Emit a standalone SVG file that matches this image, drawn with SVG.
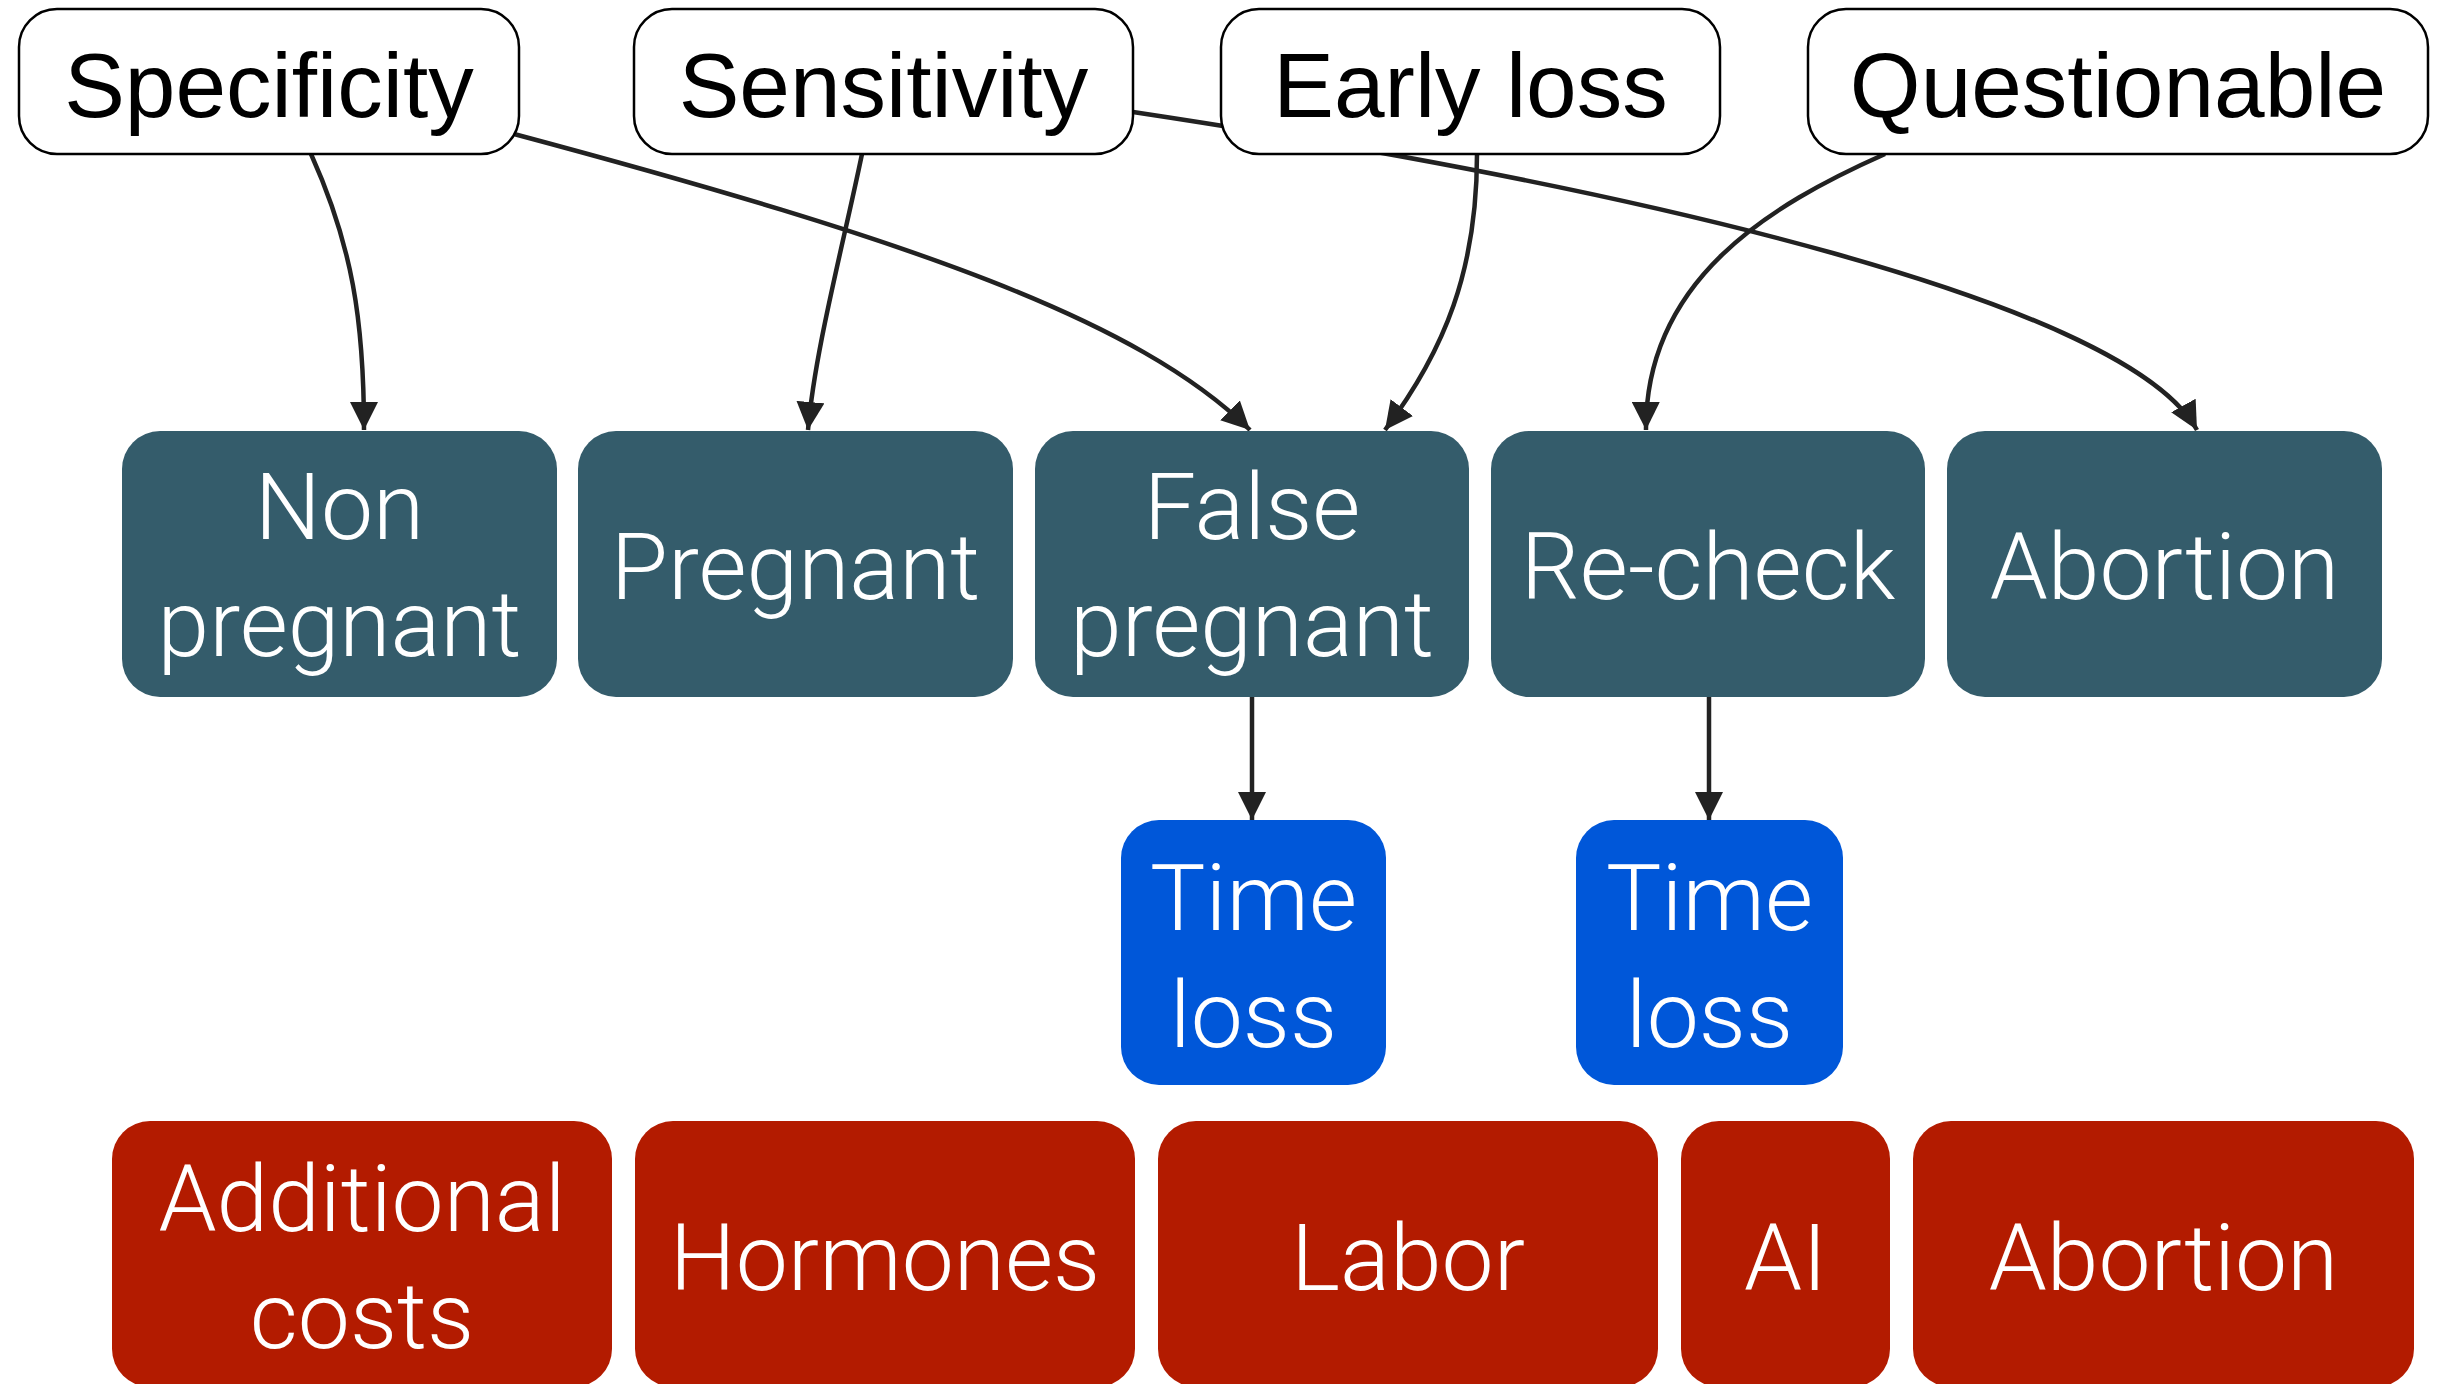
<svg xmlns="http://www.w3.org/2000/svg" width="2440" height="1384" viewBox="0 0 2440 1384">
<style>
.top rect{fill:#fff;stroke:#000;stroke-width:2.5}
.top text{font-family:"Liberation Sans",Arial,sans-serif;font-size:91px;fill:#000;text-anchor:middle}
.teal rect{fill:#345c6b}
.blue rect{fill:#0057d9}
.red rect{fill:#b31b00}
.w text{font-family:Roboto,"Liberation Sans",sans-serif;font-weight:300;font-size:93px;fill:#fff;text-anchor:middle}
.edge{fill:none;stroke:#222;stroke-width:4.5;marker-end:url(#ah)}
</style>
<defs>
<marker id="ah" markerUnits="userSpaceOnUse" markerWidth="28" markerHeight="28" refX="26" refY="13" orient="auto" viewBox="0 0 26 26">
<path d="M0,0 L26,13 L0,26 z" fill="#222"/>
</marker>
</defs>
<rect width="2440" height="1384" fill="#fff"/>
<g id="connectors">
<path class="edge" d="M311,154 C352,245 364,320 364,430"/>
<path class="edge" d="M862,154 C842,250 815,350 808,430"/>
<path class="edge" d="M514,134 C914,241 1138,320 1250,430"/>
<path class="edge" d="M1133,112 C1650,190 2127,304 2197,430"/>
<path class="edge" d="M1477,154 C1477,270 1445,350 1385,430"/>
<path class="edge" d="M1885,154 C1770,205 1645,280 1646,430"/>
<path class="edge" d="M1252,697 L1252,820"/>
<path class="edge" d="M1709,697 L1709,820"/>
</g>
<g id="n-specificity" class="top"><rect x="19" y="9" width="500" height="145" rx="38"/><text x="269" y="117">Specificity</text></g>
<g id="n-sensitivity" class="top"><rect x="634" y="9" width="499" height="145" rx="38"/><text x="883.5" y="117">Sensitivity</text></g>
<g id="n-earlyloss" class="top"><rect x="1221" y="9" width="499" height="145" rx="38"/><text x="1470.5" y="117">Early loss</text></g>
<g id="n-questionable" class="top"><rect x="1808" y="9" width="620" height="145" rx="38"/><text x="2118" y="117">Questionable</text></g>

<g id="n-nonpregnant" class="teal w"><rect x="122" y="431" width="435" height="266" rx="38"/><text x="339.5" y="539">Non</text><text x="339.5" y="656">pregnant</text></g>
<g id="n-pregnant" class="teal w"><rect x="578" y="431" width="435" height="266" rx="38"/><text x="795.5" y="599">Pregnant</text></g>
<g id="n-falsepregnant" class="teal w"><rect x="1035" y="431" width="434" height="266" rx="38"/><text x="1252" y="539">False</text><text x="1252" y="656">pregnant</text></g>
<g id="n-recheck" class="teal w"><rect x="1491" y="431" width="434" height="266" rx="38"/><text x="1708" y="599">Re-check</text></g>
<g id="n-abortion1" class="teal w"><rect x="1947" y="431" width="435" height="266" rx="38"/><text x="2164.5" y="599">Abortion</text></g>

<g id="n-timeloss1" class="blue w"><rect x="1121" y="820" width="265" height="265" rx="38"/><text x="1253.5" y="930">Time</text><text x="1253.5" y="1047">loss</text></g>
<g id="n-timeloss2" class="blue w"><rect x="1576" y="820" width="267" height="265" rx="38"/><text x="1709.5" y="930">Time</text><text x="1709.5" y="1047">loss</text></g>

<g id="n-additionalcosts" class="red w"><rect x="112" y="1121" width="500" height="266" rx="38"/><text x="362" y="1231">Additional</text><text x="362" y="1348">costs</text></g>
<g id="n-hormones" class="red w"><rect x="635" y="1121" width="500" height="266" rx="38"/><text x="885" y="1290">Hormones</text></g>
<g id="n-labor" class="red w"><rect x="1158" y="1121" width="500" height="266" rx="38"/><text x="1408" y="1290">Labor</text></g>
<g id="n-ai" class="red w"><rect x="1681" y="1121" width="209" height="266" rx="38"/><text x="1785.5" y="1290">AI</text></g>
<g id="n-abortion2" class="red w"><rect x="1913" y="1121" width="501" height="266" rx="38"/><text x="2163.5" y="1290">Abortion</text></g>
</svg>
